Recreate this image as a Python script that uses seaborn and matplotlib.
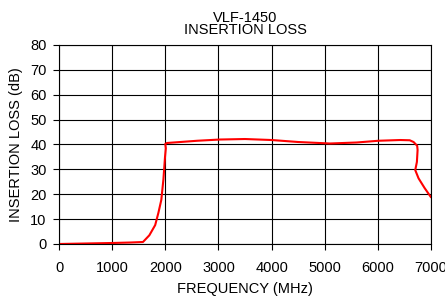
import matplotlib
matplotlib.use("Agg")
import matplotlib.pyplot as plt
import seaborn as sns
import pandas as pd

# Insertion loss trace (x is not monotonic at the ends)
freq_mhz = [0, 500, 1000, 1350, 1580, 1700, 1810, 1870, 1925, 1965, 1995, 2010,
            2000, 2030, 2220, 2600, 3030, 3500, 4000, 4500, 5100, 5600, 6010,
            6420, 6600, 6672, 6740, 6748, 6735, 6704, 6766, 6880, 7000]
loss_db = [0.0, 0.2, 0.4, 0.6, 0.8, 3.5, 7.6, 12.5, 17.7, 26.0, 35.0, 38.5,
           40.2, 40.6, 40.9, 41.5, 42.0, 42.2, 41.8, 41.0, 40.4, 40.8, 41.5,
           41.8, 41.7, 41.0, 39.5, 37.8, 33.0, 29.7, 26.4, 22.5, 18.8]

x_ticks = [0, 1000, 2000, 3000, 4000, 5000, 6000, 7000]
y_ticks = [0, 10, 20, 30, 40, 50, 60, 70, 80]

df = pd.DataFrame({"freq": freq_mhz, "loss": loss_db})

sns.set_style("white")
plt.rcParams["font.family"] = ["Liberation Sans", "DejaVu Sans"]
plt.rcParams["text.color"] = "black"
plt.rcParams["axes.labelcolor"] = "black"
plt.rcParams["xtick.color"] = "black"
plt.rcParams["ytick.color"] = "black"

fig = plt.figure(figsize=(4.45, 2.96), dpi=100)
ax = fig.add_axes([0.1326, 0.1757, 0.8359, 0.6723])

sns.lineplot(data=df, x="freq", y="loss", sort=False, estimator=None,
             color="#ff0000", linewidth=1.5, ax=ax)

ax.set_xlim(0, 7000)
ax.set_ylim(0, 80)
ax.set_xticks(x_ticks)
ax.set_yticks(y_ticks)
ax.grid(True, color="black", linewidth=0.8)
ax.set_axisbelow(True)
for s in ax.spines.values():
    s.set_color("black")
    s.set_linewidth(0.8)
ax.tick_params(axis="both", direction="out", length=4, width=0.8,
               color="black", labelsize=10.5, bottom=True, left=True)
ax.tick_params(axis="x", pad=8)
ax.tick_params(axis="y", pad=5)

ax.set_xlabel("FREQUENCY (MHz)", fontsize=10.5, labelpad=5)
ax.set_ylabel("INSERTION LOSS (dB)", fontsize=10.5, labelpad=5)
ax.set_title("VLF-1450\nINSERTION LOSS", fontsize=10.5, pad=8, linespacing=0.85)

fig.savefig("out.png", dpi=100)
plt.close(fig)
